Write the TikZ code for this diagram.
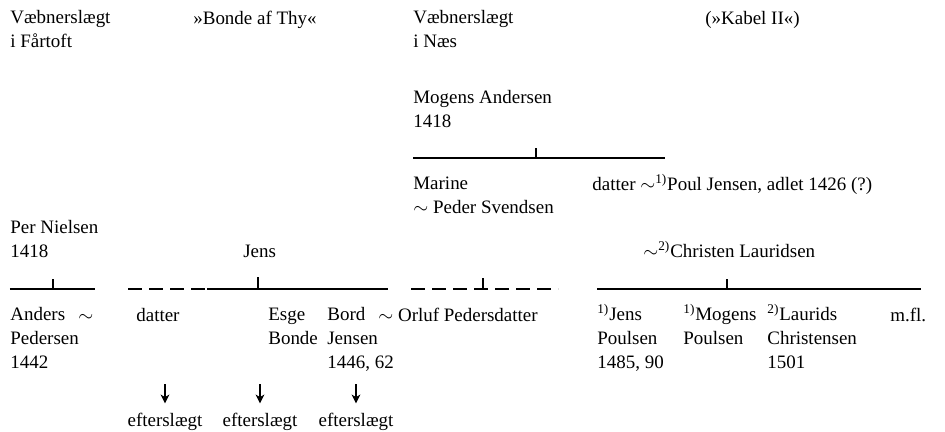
\documentclass[tikz,border=0pt]{standalone}
\usepackage{fontspec}
\setmainfont{Liberation Serif}
\usetikzlibrary{arrows.meta}
\tikzset{
  person/.style={inner sep=0pt, anchor=base west, align=left, font=\fontsize{10.8}{13.4}\selectfont},
  bar/.style={line width=0.8pt},
  dashbar/.style={line width=0.8pt, dash pattern=on 0.27cm off 0.15cm},
  ned/.style={line width=0.7pt, -{Stealth[length=5pt,width=5pt,inset=1.5pt]}}
}
\newcommand{\fn}[1]{\textsuperscript{#1)}}

\begin{document}
\begin{tikzpicture}
			%%%%% START %%%%%
			\useasboundingbox (0, 0) rectangle (18.9, -8.62);
			% (flerlinjede navne sidder paa sidste linjes grundlinje)
			
			% slaegterne
			\node[person] (fartoft) at (0.2, -0.94) {Væbnerslægt\\i Fårtoft};
			\node[person] (bondethy) at (3.86, -0.48) {»Bonde af Thy«};
			\node[person] (naes) at (8.26, -0.94) {Væbnerslægt\\i Næs};
			\node[person] (kabel) at (14.1, -0.48) {(»Kabel II«)};
			
			% Naes
			\node[person] (mogens) at (8.26, -2.54) {Mogens Andersen\\1418};
			\draw[bar] (8.26, -3.16) -- (13.3, -3.16);
			\draw[bar] (10.72, -3.16) -- (10.72, -2.96);
			\node[person] (marine) at (8.26, -4.26) {Marine\\$\sim$ Peder Svendsen};
			\node[person] (pjdatter) at (11.84, -3.80) {datter $\sim$\fn{1}Poul Jensen, adlet 1426 (?)};
			
			\node[person] (per) at (0.2, -5.14) {Per Nielsen\\1418};
			\node[person] (jens) at (4.86, -5.14) {Jens};
			\node[person] (christen) at (12.86, -5.14) {$\sim$\fn{2}Christen Lauridsen};
			
			% streger
			\draw[bar] (0.2, -5.78) -- (1.9, -5.78);
			\draw[bar] (1.06, -5.78) -- (1.06, -5.58);
			\draw[dashbar] (2.56, -5.78) -- (4.14, -5.78);
			\draw[bar] (4.14, -5.78) -- (7.76, -5.78);
			\draw[bar] (5.16, -5.78) -- (5.16, -5.54);
			\draw[dashbar] (8.22, -5.78) -- (11.16, -5.78);
			\draw[bar] (9.66, -5.78) -- (9.66, -5.56);
			\draw[bar] (11.94, -5.78) -- (18.42, -5.78);
			\draw[bar] (14.54, -5.78) -- (14.54, -5.58);
			
			% boern
			\node[person] (anders) at (0.2, -7.36) {Anders\\Pedersen\\1442};
			\node[person] (gift) at (1.56, -6.42) {$\sim$};
			\node[person] (datter) at (2.72, -6.42) {datter};
			\node[person] (esge) at (5.36, -6.88) {Esge\\Bonde};
			\node[person] (bord) at (6.54, -7.36) {Bord\\Jensen\\1446, 62};
			\node[person] (orluf) at (7.56, -6.42) {$\sim$ Orluf Pedersdatter};
			\node[person] (jensp) at (11.94, -7.36) {\fn{1}Jens\\Poulsen\\1485, 90};
			\node[person] (mogensp) at (13.66, -6.88) {\fn{1}Mogens\\Poulsen};
			\node[person] (laurids) at (15.34, -7.36) {\fn{2}Laurids\\Christensen\\1501};
			\node[person] (mfl) at (17.8, -6.42) {m.fl.};
			
			% efterslaegt
			\node[person, anchor=base] (eft1) at (3.3, -8.52) {efterslægt};
			\node[person, anchor=base] (eft2) at (5.2, -8.52) {efterslægt};
			\node[person, anchor=base] (eft3) at (7.12, -8.52) {efterslægt};
			\draw[ned] ([yshift=5.6mm]eft1.north) -- ([yshift=1.8mm]eft1.north);
			\draw[ned] ([yshift=5.6mm]eft2.north) -- ([yshift=1.8mm]eft2.north);
			\draw[ned] ([yshift=5.6mm]eft3.north) -- ([yshift=1.8mm]eft3.north);
			
			%%%%% END %%%%%
		\end{tikzpicture}
\end{document}
